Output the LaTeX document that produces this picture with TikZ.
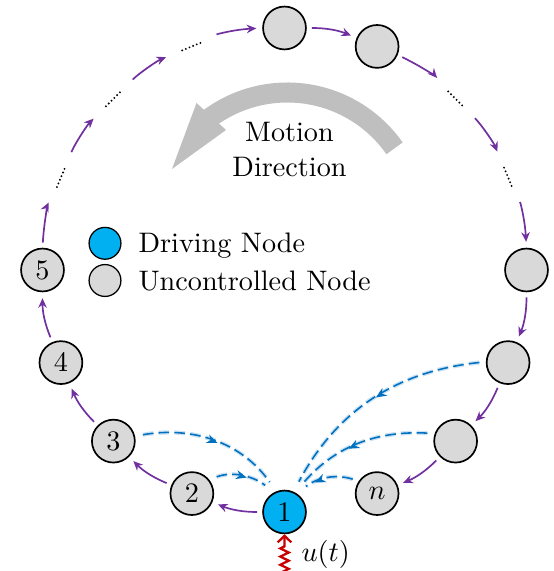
\documentclass[tikz,border=0pt]{standalone}
\usetikzlibrary{arrows.meta,decorations.pathmorphing,decorations.markings}
\definecolor{ppl}{RGB}{112,48,160}
\definecolor{dblue}{RGB}{0,112,192}
\definecolor{cyanfill}{RGB}{0,176,240}
\definecolor{lgray}{RGB}{217,217,217}
\definecolor{agray}{RGB}{191,191,191}
\definecolor{dred}{RGB}{200,0,0}
\begin{document}
\begin{tikzpicture}[x=0.3546pt,y=0.3546pt,
  unc/.style={circle, draw=black, line width=0.6pt, fill=lgray, minimum size=15.2pt, inner sep=0pt},
  drv/.style={unc, fill=cyanfill},
  legc/.style={circle, draw=black, line width=0.45pt, minimum size=11.3pt, inner sep=0pt},
  flow/.style={draw=ppl, line width=0.6pt, -{Stealth[length=3.4pt,width=3pt]}, bend left=11.25, shorten <=1.8pt, shorten >=2.1pt},
  fromdot/.style={shorten <=9.7pt},
  todot/.style={shorten >=9.9pt},
  dotseg/.style={line width=0.75pt, dash pattern=on 0pt off 1.4pt, line cap=round},
  ctrl/.style={draw=dblue, color=dblue, line width=0.55pt, dash pattern=on 3.8pt off 1.8pt,
    preaction={draw=dblue!20, line width=1.5pt, dash pattern=on 3.8pt off 1.8pt},
    decoration={markings, mark=at position #1 with {\arrow{Stealth[length=3.8pt,width=3.2pt]}}},
    postaction={decorate}},
  ctrl/.default=0.5,
  txt/.style={inner sep=0pt, font=\normalsize}
]
\useasboundingbox (0,0) rectangle (554,571);
\coordinate (C) at (284.5,301);
\foreach \k [evaluate=\k as \a using -90-22.5*\k] in {0,...,15} {
  \path (C) ++(\a:242) coordinate (p\k);
}
% motion direction arrow
\coordinate (G) at (287.3,347.6);
\draw[agray, line width=7.1pt] (G) ++(35:130.9) arc[start angle=35, end angle=130, radius=130.9];
\coordinate (h1) at (196.5,468);
\coordinate (h2) at (172,402);
\coordinate (h3) at (226,441);
\fill[agray] (h1) -- (h2) -- (h3) -- cycle;
\node[txt, align=center, anchor=north] (md) at (289.5,449.3) {Motion\\[0.5pt]Direction};

% nodes
\node[drv] (n1) at (p0) {$1$};
\node[unc] (n2) at (p1) {$2$};
\node[unc] (n3) at (p2) {$3$};
\node[unc] (n4) at (p3) {$4$};
\node[unc] (n5) at (p4) {$5$};
\node[unc] (nt) at (p8) {};
\node[unc] (nt2) at (p9) {};
\node[unc] (nr) at (p12) {};
\node[unc] (nr2) at (p13) {};
\node[unc] (nr3) at (p14) {};
\node[unc] (nn) at (p15) {$n$};

% dots in the gaps
\foreach \k/\u/\v in {5/247.5/67.5, 6/225/45, 7/202.5/22.5, 10/135/-45, 11/112.5/-67.5} {
  \draw[dotseg] (p\k) ++(\u:10.5) -- ++(\v:21);
}

% ring flow
\draw[flow] (n1) to (n2);
\draw[flow] (n2) to (n3);
\draw[flow] (n3) to (n4);
\draw[flow] (n4) to (n5);
\draw[flow, todot] (n5) to (p5);
\draw[flow, fromdot, todot] (p5) to (p6);
\draw[flow, fromdot, todot] (p6) to (p7);
\draw[flow, fromdot] (p7) to (nt);
\draw[flow] (nt) to (nt2);
\draw[flow, todot] (nt2) to (p10);
\draw[flow, fromdot, todot] (p10) to (p11);
\draw[flow, fromdot] (p11) to (nr);
\draw[flow] (nr) to (nr2);
\draw[flow] (nr2) to (nr3);
\draw[flow] (nr3) to (nn);

% control links to node 1
\draw[ctrl=0.52, shorten <=2.8pt, shorten >=4pt] (n3.13) to[out=10, in=125] (n1.112);
\draw[ctrl=0.55, shorten <=2.8pt, shorten >=4pt] (n2.39) to[out=20, in=142] (n1.118);
\draw[ctrl=0.68, shorten <=2.2pt, shorten >=4pt] (nn.146) to[out=162, in=40] (n1.55);
\draw[ctrl=0.56, shorten <=2.6pt, shorten >=4pt] (nr3.160) to[out=177, in=50] (n1.61);
\draw[ctrl=0.48, shorten <=2.3pt, shorten >=4pt] (nr2.178) to[out=186, in=62] (n1.66);

% input
\coordinate (ub) at (284.5,-4);
\draw[dred, line width=0.8pt, decorate,
  decoration={zigzag, amplitude=1.5pt, segment length=2.9pt, post length=3.2pt},
  -{Straight Barb[length=2.3pt,width=4.8pt]}] (ub) -- (n1.south);
\node[txt, anchor=west] (ul) at (301,17) {$u(t)$};

% legend
\node[legc, fill=cyanfill] (ld) at (105,327.7) {};
\node[legc, fill=lgray] (lu) at (105,290.5) {};
\node[txt, anchor=base west] (ldt) at (138,318) {Driving Node};
\node[txt, anchor=base west] (lut) at (138,280.5) {Uncontrolled Node};
\end{tikzpicture}
\end{document}
